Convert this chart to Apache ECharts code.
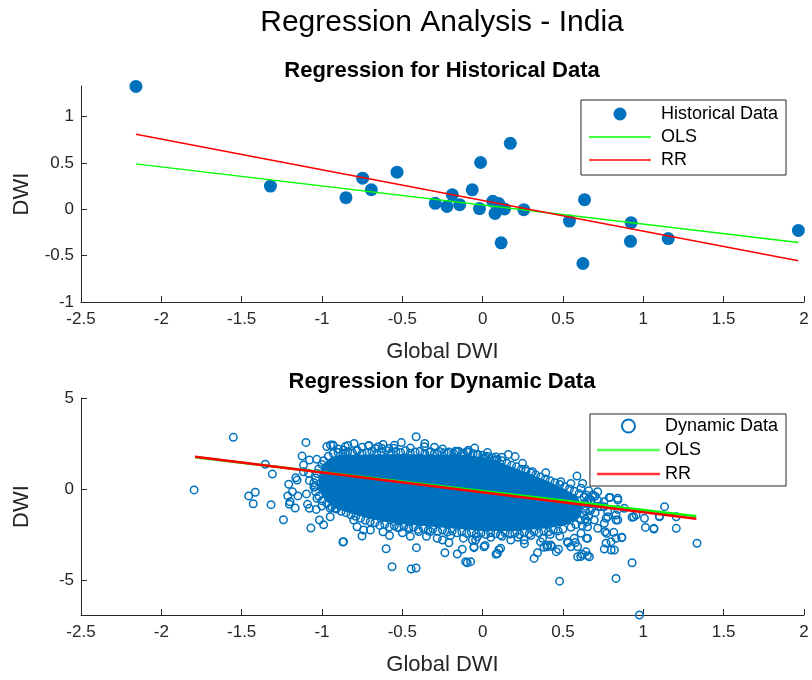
<!DOCTYPE html>
<html><head><meta charset="utf-8">
<script src="https://cdn.jsdelivr.net/npm/echarts@6/dist/echarts.min.js"></script>
<style>html,body{margin:0;padding:0;background:#fff}#c{width:812px;height:680px}</style>
</head><body><div id="c"></div>
<script>
// ---------- data ----------
const xTicks = [-2.5,-2,-1.5,-1,-0.5,0,0.5,1,1.5,2];
const histYTicks = [-1,-0.5,0,0.5,1];
const dynYTicks = [-5,0,5];

const histX = [-2.158,-1.321,-0.851,-0.747,-0.693,-0.533,-0.295,-0.222,-0.189,-0.143,-0.065,-0.013,-0.02,0.063,0.077,0.1,0.115,0.136,0.172,0.256,0.54,0.634,0.624,0.924,0.92,1.155,1.965];
const histY = [1.325,0.25,0.125,0.336,0.211,0.40,0.064,0.03,0.157,0.05,0.21,0.505,0.008,0.086,-0.045,0.062,-0.362,0.004,0.712,-0.004,-0.127,0.104,-0.585,-0.145,-0.345,-0.316,-0.228];
const histOlsX = [-2.158, 1.965];
const histOlsY = [0.49, -0.357];
const histRrX = [-2.158, 1.965];
const histRrY = [0.81, -0.555];

// dense core of the dynamic cloud (outline of the fully overlapped region)
const dynCoreX = [-1.0,-0.95,-0.88,-0.7,-0.5,-0.3,-0.1,0.0,0.1,0.2,0.3,0.4,0.5,0.59,0.62,0.6,0.52,0.4,0.2,0.0,-0.2,-0.4,-0.55,-0.7,-0.82,-0.92,-0.98,-1.02,-1.02];
const dynCoreY = [1.3,1.7,1.88,1.9,1.92,1.88,1.88,1.75,1.5,1.15,0.8,0.45,0.05,-0.4,-1.0,-1.6,-1.98,-2.15,-2.3,-2.3,-2.15,-2.0,-1.9,-1.65,-1.35,-1.05,-0.65,0.0,0.7];

// individual dynamic observations [Global DWI, DWI]
const dynPoints = [
[-1.552,2.84],[-1.796,-0.05],[-1.353,1.36],[-1.309,0.82],[-1.456,-0.38],[-1.415,-0.18],[-1.428,-0.81],[-1.317,-0.86],[-1.24,-1.69],[-1.1,2.56],[-1.069,-2.14],[-0.99,-1.96],[-1.016,-1.7],[-0.949,-1.52],[-0.87,-2.91],[-0.947,2.42],[-0.93,2.38],[-1.124,1.81],[-1.115,1.32],[-1.078,1.59],[-1.032,1.63],[-1.163,0.62],[-1.155,0.49],[-1.207,0.26],[-1.213,-0.38],[-1.199,-0.7],[-1.203,-0.84],[-1.167,-1.04],[-1.184,-0.15],[-1.15,-0.38],[-1.097,-0.27],[-1.09,-0.84],[-1.078,-1.06],[-1.032,-0.51],[-1.036,-1.12],[-1.001,-0.93],[-0.949,-1.06],[-0.918,-1.06],[-1.115,0.95],[-1.078,0.46],[-1.042,0.13],[-1.084,0.86],[-0.97,2.33],[-0.866,2.14],[-0.855,1.96],
[-0.414,2.87],[-0.506,2.55],[-0.71,2.36],[-0.668,2.23],[-0.626,2.23],[-0.855,2.33],[-0.932,2.42],[-0.782,2.14],[-0.554,2.24],[-0.325,2.05],[-0.22,1.96],[-0.158,2.05],[-0.096,2.05],[-0.033,1.87],[-0.866,-2.89],[-0.601,-3.28],[-0.412,-3.22],[-0.564,-4.27],[-0.445,-4.4],[-0.414,-4.34],[-0.235,-3.5],[-0.158,-3.57],[-0.106,-3.99],[-0.096,-4.05],[-0.21,-2.95],[-0.127,-3.31],[-0.054,-3.22],[-0.741,-2.25],[-0.699,-2.25],[-0.751,-2.58],[-0.782,-2.07],[-0.803,-1.7],[-0.532,-2.11],[-0.46,-2.11],[-0.398,-2.34],[-0.325,-2.34],[-0.283,-2.71],[-0.064,-2.8],[-0.033,-2.62],
[0.202,1.78],[0.393,0.9],[0.587,0.71],[0.487,0.4],[0.549,0.31],[0.31,0.95],[0.268,1.08],[0.248,1.41],[0.081,1.59],[0.019,1.74],[0.612,0.04],[0.643,-0.33],[0.674,-0.79],[0.632,-0.79],[0.757,-0.97],[0.788,-0.46],[0.841,-0.6],[0.778,-1.52],[0.83,-1.7],[0.757,-1.88],[0.695,-1.7],[0.716,-2.16],[0.653,-2.07],[0.612,-2.43],[0.57,-2.71],[0.653,-2.71],[0.591,-3.17],[0.643,-3.45],[0.664,-3.72],[0.591,-3.72],[0.549,-3.17],[0.528,-2.89],[0.472,-3.31],[0.458,-3.44],[0.4,-3.17],[0.341,-3.5],[0.32,-3.81],[0.424,-3.08],[0.092,-3.54],[0.112,-3.26],[0.008,-3.17],[-0.054,-3.17],[-0.044,-2.8],[0.175,-2.8],[0.258,-2.8],[0.373,-2.71],[-0.075,-3.99],[0.8,-3.35],[0.768,-2.98],
[1.132,-0.97],[1.205,-1.52],[1.205,-2.16],[1.066,-2.2],[1.013,-2.11],[1.007,-1.61],[1.1,-1.52],[0.93,-1.55],[0.955,-1.43],[1.334,-2.98],[0.93,-4.05],[0.83,-4.91],[0.976,-6.92],[0.866,-2.67],[0.82,-3.35],[0.799,-2.89],[0.816,-2.38],[0.757,-3.3],[0.762,-2.35],[0.841,-0.51],[0.795,-0.46],[0.841,-1.12],[0.841,-1.7],[0.768,-1.61],[0.778,-1.25],[0.83,-1.43],
[0.479,-5.06],[0.015,-3.1],[0.083,-3.58],[0.101,-3.33],[0.61,-3.71],[0.619,-3.58],[0.652,-3.66],[0.577,-2.94],[0.53,-2.96],[0.646,-2.7],[0.405,-3.09],[0.381,-3.2],[0.43,-3.16],[-0.708,2.39],[-0.839,2.39],[-0.649,2.32],[-0.583,2.22],[-0.363,2.32],[-0.17,2.08],[-0.089,2.13],[0.006,1.71],[0.071,1.58],[0.083,1.76],
[0.622,0.31],[0.685,-0.33],[0.716,-0.15],[0.674,-0.6],[0.737,-0.97],[0.882,-1.06],[0.94,-1.52],[1.066,-2.16],[1.1,-1.48],[0.772,-2.43],[0.83,-2.71],[0.866,-2.65],[0.755,-0.7],
[0.66,-0.1],[0.7,-0.4],[0.72,-0.65],[0.68,-1.05],[0.7,-1.3],[0.66,-1.5],[0.67,-1.2],[0.65,-1.8],[0.72,-0.95],[0.64,-1.65],[0.62,-2.0],[0.66,-0.55],
[-0.62,-2.35],[-0.58,-2.55],[-0.5,-2.4],[-0.35,-2.6],[-0.2,-2.55],[-0.12,-2.7],[0.05,-2.65],[0.12,-2.6],[0.22,-2.65],[0.3,-2.55],[0.42,-2.5],[0.48,-2.6],[0.36,-2.9],[0.26,-3.0],[-0.25,-2.8],[-0.45,-2.6],
[-0.9,2.2],[-0.75,2.3],[-0.55,2.4],[-0.45,2.25],[-0.3,2.3],[-0.25,2.2],[-0.05,2.25],[0.03,2.0],[0.12,1.75],[0.16,1.9],[-0.62,2.45],[-0.8,2.5],[-0.36,2.5],
[-0.99,1.55],[-0.96,1.8],[-0.93,1.95],[-0.9,2.0],[-0.87,1.92],[-0.84,2.05],[-0.81,1.98],[-0.78,2.1],[-0.75,1.95],[-0.72,2.02],[-0.69,2.08],[-0.66,1.96],[-0.63,2.04],[-0.6,2.12],[-0.57,1.98],[-0.54,2.06],[-0.51,2.0],[-0.48,2.1],[-0.45,1.97],[-0.42,2.04],[-0.39,2.08],[-0.36,1.95],[-0.33,2.02],[-0.3,1.97],[-0.27,2.06],[-0.24,1.99],[-0.21,2.03],[-0.18,1.96],[-0.15,2.08],[-0.12,1.98],[-0.09,2.02],[-0.06,1.95],[-0.03,1.9],[0.0,1.85],[0.03,1.8],[0.06,1.72],[0.09,1.62],[0.12,1.55],[0.15,1.42],[0.18,1.3],[0.21,1.22],[0.24,1.08],[0.27,0.98],[0.3,0.88],[0.33,0.78],[0.36,0.66],[0.39,0.55],[0.42,0.46],[0.45,0.35],[0.48,0.25],[0.51,0.12],[0.54,0.0],[0.57,-0.12],[0.6,-0.25],
[0.63,-0.45],[0.65,-0.7],[0.64,-0.95],[0.64,-1.2],[0.63,-1.45],[0.61,-1.7],[0.58,-1.95],[0.55,-2.1],
[0.5,-2.2],[0.47,-2.3],[0.44,-2.25],[0.41,-2.35],[0.38,-2.3],[0.35,-2.4],[0.32,-2.35],[0.29,-2.45],[0.26,-2.38],[0.23,-2.5],[0.2,-2.42],[0.17,-2.48],[0.14,-2.4],[0.11,-2.52],[0.08,-2.45],[0.05,-2.4],[0.02,-2.5],[-0.01,-2.42],[-0.04,-2.46],[-0.07,-2.38],[-0.1,-2.44],[-0.13,-2.35],[-0.16,-2.4],[-0.19,-2.3],[-0.22,-2.36],[-0.25,-2.25],[-0.28,-2.32],[-0.31,-2.2],[-0.34,-2.28],[-0.37,-2.15],[-0.4,-2.22],[-0.43,-2.1],[-0.46,-2.18],[-0.49,-2.05],[-0.52,-2.12],[-0.55,-2.02],[-0.58,-2.08],[-0.61,-1.95],[-0.64,-2.0],[-0.67,-1.85],[-0.7,-1.8],[-0.73,-1.72],[-0.76,-1.6],[-0.79,-1.5],[-0.82,-1.42],[-0.85,-1.3],[-0.88,-1.22],[-0.91,-1.1],[-0.94,-0.98],[-0.97,-0.8],[-1.0,-0.65],[-1.02,-0.4],[-1.04,-0.15],[-1.05,0.1],[-1.05,0.35],[-1.04,0.6],[-1.03,0.85],[-1.02,1.1],[-1.0,1.35]
];
const dynOlsX = [-1.79, 1.33];
const dynOlsY = [1.75, -1.50];
const dynRrX = [-1.79, 1.33];
const dynRrY = [1.77, -1.63];

// ---------- chart ----------
const FONT = '"Liberation Sans", Arial, Helvetica, sans-serif';
const AX = '#262626';
const BLUE = '#0072BD';
const zip = (xs, ys) => xs.map((x, i) => [x, ys[i]]);

function xAxisCfg(gi) {
  return {
    type: 'value', gridIndex: gi, min: -2.5, max: 2,
    name: 'Global DWI', nameLocation: 'middle', nameGap: 39,
    nameTextStyle: { fontSize: 22, color: AX, fontFamily: FONT },
    axisLine: { onZero: false, lineStyle: { color: AX, width: 1 } },
    axisTick: { inside: true, length: 6, customValues: xTicks, lineStyle: { color: AX } },
    axisLabel: { fontSize: 17, color: AX, fontFamily: FONT, margin: 9, customValues: xTicks },
    splitLine: { show: false }
  };
}
function yAxisCfg(gi, min, max, ticks, gap) {
  return {
    type: 'value', gridIndex: gi, min: min, max: max,
    name: 'DWI', nameLocation: 'middle', nameGap: gap,
    nameTextStyle: { fontSize: 22, color: AX, fontFamily: FONT },
    axisLine: { onZero: false, lineStyle: { color: AX, width: 1 } },
    axisTick: { inside: true, length: 6, customValues: ticks, lineStyle: { color: AX } },
    axisLabel: { fontSize: 17, color: AX, fontFamily: FONT, margin: 7, customValues: ticks },
    splitLine: { show: false }
  };
}

const LINE_ICON_THIN = 'path://M0,0H62V1.5H0Z';
const LINE_ICON_THICK = 'path://M0,0H63V2.5H0Z';

const chart = echarts.init(document.getElementById('c'), null, { renderer: 'canvas' });
chart.setOption({
  animation: false,
  backgroundColor: '#fff',
  graphic: [
    { type: 'text', x: 442, y: 23, style: { text: 'Regression Analysis - India', fontSize: 30, fontFamily: FONT, fill: '#000', align: 'center', verticalAlign: 'middle' } },
    { type: 'text', x: 442, y: 71, style: { text: 'Regression for Historical Data', fontSize: 22, fontWeight: 'bold', fontFamily: FONT, fill: '#000', align: 'center', verticalAlign: 'middle' } },
    { type: 'text', x: 442, y: 382, style: { text: 'Regression for Dynamic Data', fontSize: 22, fontWeight: 'bold', fontFamily: FONT, fill: '#000', align: 'center', verticalAlign: 'middle' } }
  ],
  grid: [
    { left: 81, right: 8, top: 86, height: 216 },
    { left: 81, right: 8, top: 398, height: 217 }
  ],
  xAxis: [xAxisCfg(0), xAxisCfg(1)],
  yAxis: [yAxisCfg(0, -1, 1.33, histYTicks, 48), yAxisCfg(1, -6.92, 5, dynYTicks, 48)],
  legend: [
    {
      orient: 'vertical', right: 26, top: 100, padding: [5, 8, 6, 8], itemGap: 5,
      itemWidth: 62, itemHeight: 13, borderColor: AX, borderWidth: 1, backgroundColor: '#fff',
      textStyle: { fontSize: 18, color: '#000', fontFamily: FONT, padding: [0, 0, 0, 5] },
      selectedMode: false,
      data: [
        { name: 'Historical Data', icon: 'circle' },
        { name: 'OLS', icon: LINE_ICON_THIN, itemStyle: { color: '#00FF00' } },
        { name: 'RR', icon: LINE_ICON_THIN, itemStyle: { color: '#FF0000' } }
      ]
    },
    {
      orient: 'vertical', right: 26, top: 414, padding: [3, 8, 3, 7], itemGap: 6,
      itemWidth: 63, itemHeight: 13, borderColor: AX, borderWidth: 1, backgroundColor: '#fff',
      textStyle: { fontSize: 18, color: '#000', fontFamily: FONT },
      selectedMode: false,
      formatter: n => n.replace(' (dynamic)', ''),
      data: [
        { name: 'Dynamic Data', icon: 'circle' },
        { name: 'OLS (dynamic)', icon: LINE_ICON_THICK, itemStyle: { color: '#55FF55' } },
        { name: 'RR (dynamic)', icon: LINE_ICON_THICK, itemStyle: { color: '#FF3333' } }
      ]
    }
  ],
  series: [
    { name: 'Historical Data', type: 'scatter', xAxisIndex: 0, yAxisIndex: 0, symbolSize: 13,
      itemStyle: { color: BLUE, opacity: 1 }, data: zip(histX, histY), z: 2 },
    { name: 'OLS', type: 'line', xAxisIndex: 0, yAxisIndex: 0, symbol: 'none',
      lineStyle: { color: '#00FF00', width: 1.5 }, itemStyle: { color: '#00FF00' }, data: zip(histOlsX, histOlsY), z: 3 },
    { name: 'RR', type: 'line', xAxisIndex: 0, yAxisIndex: 0, symbol: 'none',
      lineStyle: { color: '#FF0000', width: 1.5 }, itemStyle: { color: '#FF0000' }, data: zip(histRrX, histRrY), z: 3 },
    { name: 'core', type: 'custom', xAxisIndex: 1, yAxisIndex: 1, silent: true, z: 1,
      data: [[0, 0]],
      renderItem: function (params, api) {
        const pts = dynCoreX.map((x, i) => api.coord([x, dynCoreY[i]]));
        return { type: 'polygon', shape: { points: pts }, style: { fill: BLUE } };
      } },
    { name: 'Dynamic Data', type: 'scatter', xAxisIndex: 1, yAxisIndex: 1, symbol: 'circle', symbolSize: 7.5,
      itemStyle: { color: 'rgba(0,0,0,0)', borderColor: BLUE, borderWidth: 1.5, opacity: 1 },
      data: dynPoints, z: 2 },
    { name: 'OLS (dynamic)', type: 'line', xAxisIndex: 1, yAxisIndex: 1, symbol: 'none',
      lineStyle: { color: '#00FF00', width: 2.5 }, itemStyle: { color: '#00FF00' }, data: zip(dynOlsX, dynOlsY), z: 3 },
    { name: 'RR (dynamic)', type: 'line', xAxisIndex: 1, yAxisIndex: 1, symbol: 'none',
      lineStyle: { color: '#FF0000', width: 2.5 }, itemStyle: { color: '#FF0000' }, data: zip(dynRrX, dynRrY), z: 4 }
  ]
});
</script></body></html>
